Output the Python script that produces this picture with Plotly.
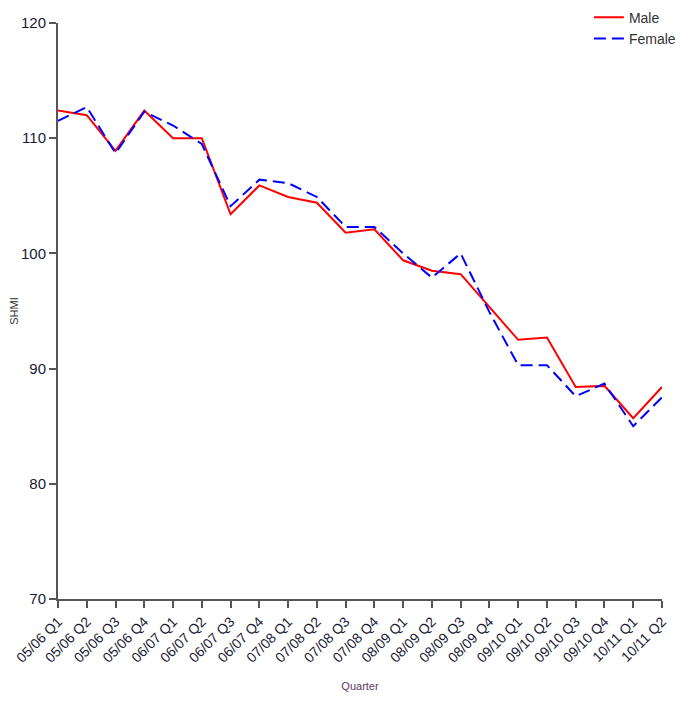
import plotly.graph_objects as go

quarters = ["05/06 Q1", "05/06 Q2", "05/06 Q3", "05/06 Q4",
            "06/07 Q1", "06/07 Q2", "06/07 Q3", "06/07 Q4",
            "07/08 Q1", "07/08 Q2", "07/08 Q3", "07/08 Q4",
            "08/09 Q1", "08/09 Q2", "08/09 Q3", "08/09 Q4",
            "09/10 Q1", "09/10 Q2", "09/10 Q3", "09/10 Q4",
            "10/11 Q1", "10/11 Q2"]
male = [112.4, 112.0, 108.9, 112.4, 110.0, 110.0, 103.4, 105.9,
        104.9, 104.4, 101.8, 102.1, 99.4, 98.5, 98.2, 95.3,
        92.5, 92.7, 88.4, 88.5, 85.7, 88.4]
female = [111.5, 112.7, 108.7, 112.3, 111.1, 109.5, 104.1, 106.4,
          106.1, 104.9, 102.3, 102.3, 100.0, 97.9, 100.0, 94.9,
          90.3, 90.3, 87.6, 88.7, 85.0, 87.5]
y_ticks = [70, 80, 90, 100, 110, 120]

fig = go.Figure()
fig.add_trace(go.Scatter(x=quarters, y=male, mode="lines", name="Male",
                         line=dict(color="#ff0000", width=2)))
fig.add_trace(go.Scatter(x=quarters, y=female, mode="lines", name="Female",
                         line=dict(color="#0000ff", width=2, dash="12px,6px")))

fam = "Liberation Sans, Arial, sans-serif"
fig.update_layout(
    width=685, height=701,
    margin=dict(l=50, r=31, t=15, b=110, autoexpand=False),
    plot_bgcolor="white", paper_bgcolor="white",
    font=dict(family=fam),
    showlegend=True,
    legend=dict(x=0.879, y=1.037, xanchor="left", yanchor="top",
                font=dict(size=14, color="#333333"),
                bgcolor="rgba(0,0,0,0)", tracegroupgap=0, itemwidth=30),
    xaxis=dict(
        type="category", showgrid=False, zeroline=False, automargin=False,
        showline=True, linecolor="#555555", linewidth=2,
        ticks="outside", tickcolor="#555555", ticklen=7, tickwidth=1.5,
        tickangle=-45, tickfont=dict(family=fam, size=14, color="#1a1a33"),
        range=[0, len(quarters) - 1],
        title=dict(text="Quarter", font=dict(size=11, color="#5a3a6a"), standoff=18),
    ),
    yaxis=dict(
        showgrid=False, zeroline=False, automargin=False,
        showline=True, linecolor="#555555", linewidth=2,
        ticks="outside", tickcolor="#555555", ticklen=7, tickwidth=1.5,
        tickvals=y_ticks, range=[70, 120],
        tickfont=dict(family=fam, size=15, color="#1a1a33"),
        title=dict(text="SHMI", font=dict(size=11, color="#333333"), standoff=6),
    ),
)

fig.write_html("out.html")
